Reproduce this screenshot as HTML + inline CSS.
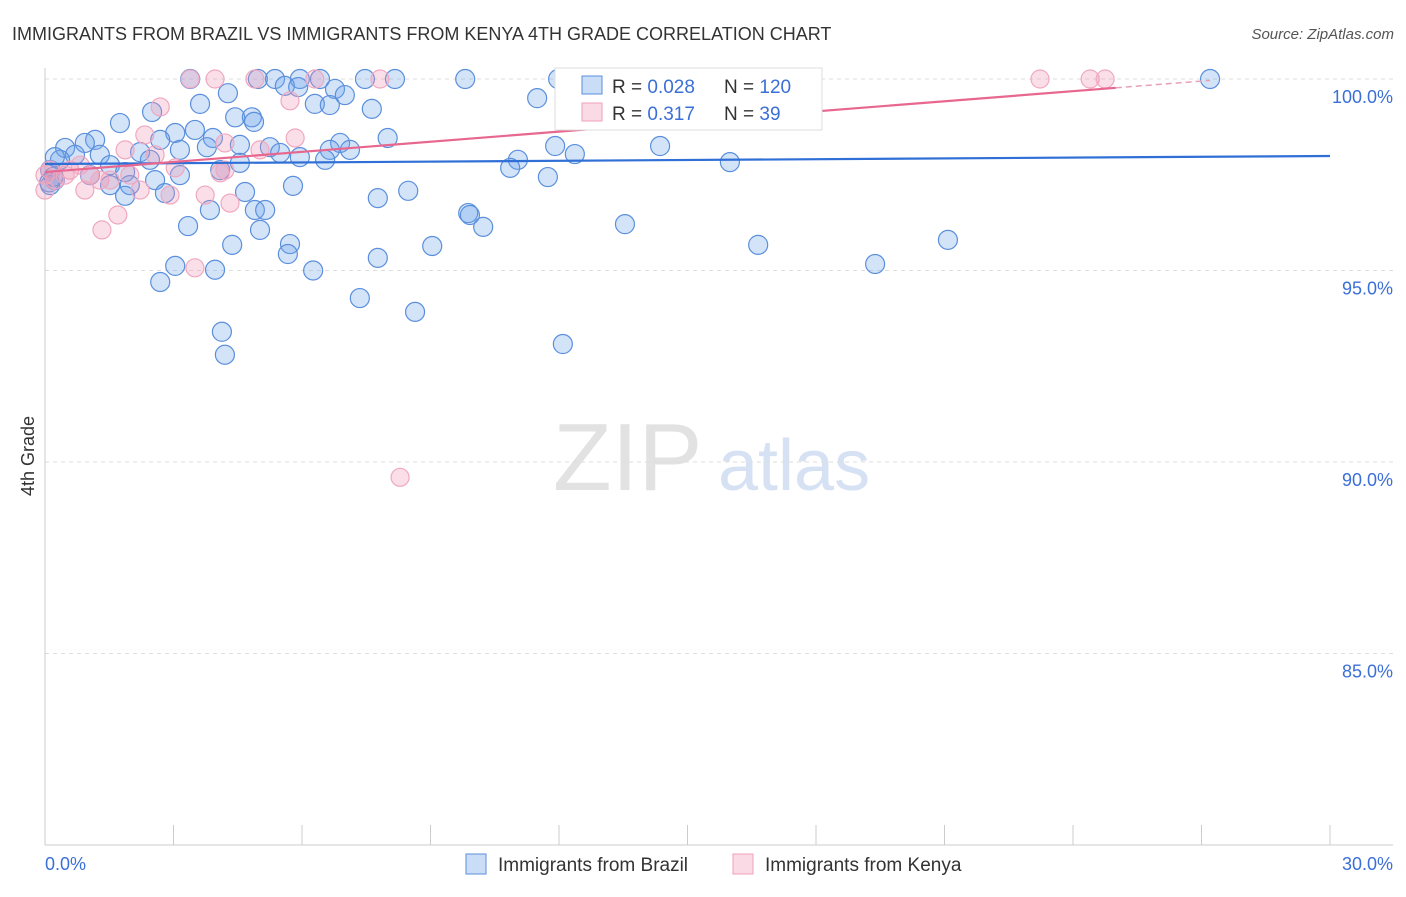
<!DOCTYPE html>
<html><head><meta charset="utf-8"><style>
body{margin:0;background:#fff;font-family:"Liberation Sans",sans-serif}
svg text{font-family:"Liberation Sans",sans-serif}
</style></head><body>
<svg id="chart" width="1406" height="892" viewBox="0 0 1406 892">
<text x="12" y="40" font-size="18" fill="#333">IMMIGRANTS FROM BRAZIL VS IMMIGRANTS FROM KENYA 4TH GRADE CORRELATION CHART</text>
<text x="1394" y="39" font-size="15" fill="#555" font-style="italic" text-anchor="end">Source: ZipAtlas.com</text>
<g>
<text x="553" y="490" font-size="96" fill="#e2e2e2" font-family="Liberation Serif,serif">ZIP</text>
<text x="718" y="490" font-size="72" fill="#d6e2f3">atlas</text>
</g>
<g id="grid"></g>
<g id="axes"></g>
<g id="marks"></g>
<g id="lines"></g>
<text transform="translate(34,456) rotate(-90)" font-size="18" fill="#333" text-anchor="middle">4th Grade</text>
<g>
<rect x="555" y="68" width="267" height="62" fill="#fff" stroke="#ddd"/>
<rect x="582" y="76" width="20" height="18" fill="rgba(100,160,230,0.35)" stroke="#5b8fdc"/>
<rect x="582" y="103" width="20" height="18" fill="rgba(240,150,180,0.35)" stroke="#f0a0b8"/>
<text x="612" y="93" font-size="19" fill="#333">R = <tspan fill="#3b6fd8">0.028</tspan></text>
<text x="724" y="93" font-size="19" fill="#333">N = <tspan fill="#3b6fd8">120</tspan></text>
<text x="612" y="120" font-size="19" fill="#333">R = <tspan fill="#3b6fd8"> 0.317</tspan></text>
<text x="724" y="120" font-size="19" fill="#333">N = <tspan fill="#3b6fd8">  39</tspan></text>
</g>
<g>
<rect x="466" y="854" width="20" height="20" fill="rgba(100,160,230,0.35)" stroke="#5b8fdc"/>
<text x="498" y="871" font-size="19" fill="#333">Immigrants from Brazil</text>
<rect x="733" y="854" width="20" height="20" fill="rgba(240,150,180,0.35)" stroke="#f0a0b8"/>
<text x="765" y="871" font-size="19" fill="#333">Immigrants from Kenya</text>
</g>
</svg>
<script>
const brazilX=[3.39,4.97,5.37,5.95,6.42,7.47,8.17,9.81,11.98,13.89,16.23,27.2,4.27,5.6,5.91,6.77,7.0,3.62,6.3,6.65,7.63,11.49,2.5,1.75,4.44,4.83,4.88,3.5,3.04,1.17,0.93,3.92,2.69,3.15,4.55,5.25,6.89,7.12,8.0,6.65,5.95,5.49,3.78,0.47,0.7,1.28,2.22,0.35,0.23,1.52,2.45,4.55,6.54,11.04,10.86,11.91,12.37,14.36,15.99,0.12,0.23,1.05,1.87,1.52,1.98,2.57,3.15,4.09,4.67,5.79,7.77,8.48,11.74,1.87,2.8,0.12,3.85,4.9,5.14,9.88,9.92,10.23,13.54,3.34,5.02,4.37,5.72,5.67,7.77,9.04,16.65,21.08,3.04,3.97,6.26,19.38,2.69,7.35,8.64,4.13,4.2,12.09,0.1,0.2];
const brazilY=[100,100,100,100,100,100,100,100,100,100,100,100,99.63,99.82,99.79,99.74,99.58,99.35,99.35,99.32,99.22,99.5,99.14,98.85,99.0,99.0,98.88,98.67,98.59,98.41,98.33,98.46,98.41,98.15,98.28,98.22,98.33,98.15,98.46,98.15,97.96,98.07,98.22,98.2,98.02,98.02,98.09,97.89,97.96,97.75,97.89,97.81,97.89,97.89,97.68,98.25,98.04,98.25,97.83,97.62,97.36,97.49,97.57,97.23,97.23,97.36,97.49,97.62,97.05,97.21,96.89,97.08,97.44,96.95,97.02,97.23,96.58,96.58,96.58,96.5,96.45,96.14,96.21,96.16,96.06,95.67,95.69,95.43,95.33,95.64,95.67,95.8,95.12,95.02,95.0,95.17,94.7,94.28,93.92,93.4,92.8,93.08,97.3,97.45];
const kenyaX=[3.39,3.97,4.9,6.3,7.82,23.23,24.4,24.75,5.72,2.69,5.84,2.33,4.2,2.57,1.87,0.12,0.23,0.58,1.05,1.28,1.52,2.22,3.04,4.09,3.74,2.92,4.32,0.93,1.7,1.33,3.5,8.29,0,0.47,0.82,1.98,0,4.2,5.02];
const kenyaY=[100,100,100,100,100,100,100,100,99.43,99.27,98.46,98.54,98.33,98.02,98.15,97.62,97.36,97.62,97.49,97.36,97.36,97.1,97.68,97.55,96.97,96.97,96.76,97.1,96.45,96.06,95.07,89.6,97.1,97.49,97.75,97.49,97.49,97.62,98.15];
const brazilTrend=[97.78,0.007];
const kenyaTrend=[97.57,0.088];
const yTicks=[100,95,90,85];
const yTickLabels=["100.0%","95.0%","90.0%","85.0%"];
const xTicks=[0,3,6,9,12,15,18,21,24,27,30];
const xLabels=["0.0%","30.0%"];

const NS="http://www.w3.org/2000/svg";
const X0=45,X1=1330,Y0=845,Y1=79;
const xs=v=>X0+(v/30)*(X1-X0);
const ys=v=>Y0-((v-80)/20)*(Y0-Y1);
function mk(tag,attrs,parent){const e=document.createElementNS(NS,tag);for(const k in attrs)e.setAttribute(k,attrs[k]);document.getElementById(parent).appendChild(e);return e;}
yTicks.forEach((t,i)=>{
  const g=mk('line',{x1:X0,x2:1393,y1:ys(t),y2:ys(t),stroke:'#ddd','stroke-dasharray':'4,4'},'grid');
  
  
  const l=mk('text',{x:1393,y:ys(t)+24,'font-size':18,fill:'#3b6fd8','text-anchor':'end'},'grid');
  l.textContent=yTickLabels[i];
  
  
});
const ax=mk('line',{x1:X0,x2:X0,y1:68,y2:Y0,stroke:'#ccc'},'axes');


const bx=mk('line',{x1:X0,x2:1393,y1:Y0,y2:Y0,stroke:'#ccc'},'axes');


xTicks.forEach(t=>{
  const tk=mk('line',{x1:xs(t),x2:xs(t),y1:825,y2:Y0,stroke:'#ccc'},'axes');
  
  
});
const xl0=mk('text',{x:45,y:870,'font-size':18,fill:'#3b6fd8'},'axes');xl0.textContent=xLabels[0];


const xl1=mk('text',{x:1393,y:870,'font-size':18,fill:'#3b6fd8','text-anchor':'end'},'axes');xl1.textContent=xLabels[1];


brazilX.forEach((v,i)=>{
  const c=mk('circle',{cx:xs(v),cy:ys(brazilY[i]),r:9.5,fill:'rgba(110,165,235,0.3)',stroke:'#5b8fdc','stroke-width':1.2},'marks');
  
  
});
kenyaX.forEach((v,i)=>{
  const c=mk('circle',{cx:xs(v),cy:ys(kenyaY[i]),r:9,fill:'rgba(240,150,180,0.3)',stroke:'#f0a8c0','stroke-width':1.2},'marks');
  
  
});
const bl=mk('line',{x1:xs(0),y1:ys(brazilTrend[0]),x2:xs(30),y2:ys(brazilTrend[0]+30*brazilTrend[1]),stroke:'#2f6fd6','stroke-width':2.2},'lines');


const kl=mk('line',{x1:xs(0),y1:ys(kenyaTrend[0]),x2:xs(25),y2:ys(kenyaTrend[0]+25*kenyaTrend[1]),stroke:'#e8678f','stroke-width':2.2},'lines');


const kd=mk('line',{x1:xs(25),y1:ys(kenyaTrend[0]+25*kenyaTrend[1]),x2:xs(27.2),y2:ys(kenyaTrend[0]+27.2*kenyaTrend[1]),stroke:'#e8a0b8','stroke-width':1.5,'stroke-dasharray':'6,4'},'lines');


</script>
</body></html>
